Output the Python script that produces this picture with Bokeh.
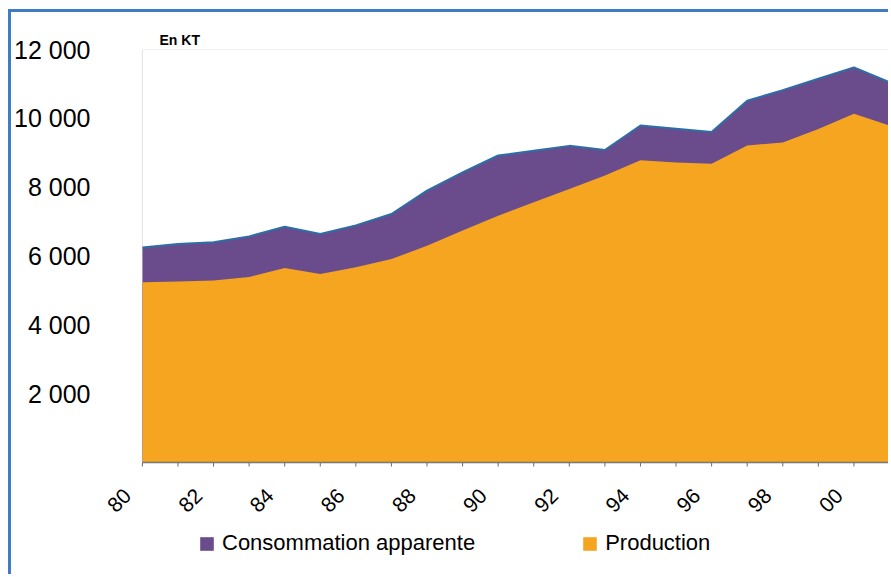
import math
from bokeh.plotting import figure
from bokeh.models import Range1d, FixedTicker, Legend, LegendItem, BoxAnnotation
from bokeh.core.properties import value
from bokeh.embed import file_html
from bokeh.resources import INLINE

# ---- data (kt) ----
years = list(range(1980, 2002))
consommation = [6250, 6350, 6400, 6570, 6850, 6640, 6890, 7220, 7900, 8430, 8920,
                9060, 9200, 9080, 9790, 9700, 9600, 10510, 10820, 11150, 11480, 11050]
production = [5240, 5260, 5290, 5390, 5650, 5480, 5670, 5910, 6300, 6740, 7170,
              7560, 7950, 8340, 8780, 8720, 8680, 9210, 9300, 9690, 10130, 9790]
x_tick_years = list(range(1980, 2001, 2))
x_tick_labels = ["80", "82", "84", "86", "88", "90", "92", "94", "96", "98", "00"]
y_tick_values = [2000, 4000, 6000, 8000, 10000, 12000]
y_tick_labels = ["2 000", "4 000", "6 000", "8 000", "10 000", "12 000"]
series_names = ["Consommation apparente", "Production"]
unit_label = "En KT"

PURPLE = "#6a4b8c"
ORANGE = "#f5a51f"
EDGE = "#2e6ea6"
GRAY = "#9a9a9a"
AXIS = "#6b6b6b"
FONT = "Liberation Sans"
Y_TOP = 12000
LABEL_SHIFT = 1.29          # years of blank space left of the first category
PLOT_H, BELOW_H = 413, 115  # px: value area height, space for labels + legend
Y_MIN = -Y_TOP * BELOW_H / PLOT_H

x0, x1 = years[0], years[-1]
p = figure(width=880, height=565, output_backend="svg", toolbar_location=None,
           x_range=Range1d(x0 - LABEL_SHIFT, x1), y_range=Range1d(Y_MIN, Y_TOP),
           x_axis_location=None,
           min_border_left=85, min_border_right=2, min_border_top=37,
           min_border_bottom=0, background_fill_color="white",
           border_fill_color="white", outline_line_color=None)
p.styles = {"margin-left": "8px", "margin-top": "9px",
            "border-left": "3px solid #3f7cc5", "border-top": "3px solid #3f7cc5"}

r_cons = p.varea(x=years, y1=0, y2=consommation, fill_color=PURPLE)
p.line(x=years, y=consommation, line_color=EDGE, line_width=2)
r_prod = p.varea(x=years, y1=0, y2=production, fill_color=ORANGE)
p.add_layout(BoxAnnotation(left=x0, right=x1, bottom=0, top=Y_TOP,
                           fill_alpha=0, line_color=GRAY, line_width=1))

p.xgrid.visible = False
p.ygrid.visible = False

# category axis: line, ticks every year, rotated labels every 2 years
p.segment(x0=[x0], y0=[0], x1=[x1], y1=[0], line_color=AXIS, line_width=1.5)
p.ray(x=years, y=0, length=4, length_units="screen", angle=-math.pi / 2,
      line_color=AXIS, line_width=1)
p.text(x=x_tick_years, y=0, text=x_tick_labels, angle=math.pi / 4,
       x_offset=-23, y_offset=38, text_align="center", text_baseline="middle",
       text_font=value(FONT), text_font_size=value("21px"), text_color="black")

# y axis
ya = p.yaxis[0]
ya.ticker = FixedTicker(ticks=y_tick_values)
ya.major_label_overrides = {v: l for v, l in zip(y_tick_values, y_tick_labels)}
ya.major_label_text_font = FONT
ya.major_label_text_font_size = "25px"
ya.major_label_text_color = "black"
ya.major_label_standoff = 6
ya.axis_line_color = None
ya.major_tick_line_color = None
ya.minor_tick_line_color = None
ya.major_tick_in = 0
ya.major_tick_out = 0

p.title.text = unit_label
p.title.align = "left"
p.title.offset = 63
p.title.standoff = 4
p.title.text_font = FONT
p.title.text_font_size = "14px"
p.title.text_font_style = "bold"
p.title.text_color = "black"

legend = Legend(items=[LegendItem(label=series_names[0], renderers=[r_cons]),
                       LegendItem(label=series_names[1], renderers=[r_prod])],
                orientation="horizontal", location=(102, 21),
                glyph_width=17, glyph_height=17, label_standoff=7, spacing=106,
                padding=0, margin=0, border_line_color=None,
                background_fill_alpha=0, label_text_font=FONT,
                label_text_font_size="22px", label_text_color="black")
p.add_layout(legend, "center")

open("out.html", "w").write(file_html(p, INLINE))
